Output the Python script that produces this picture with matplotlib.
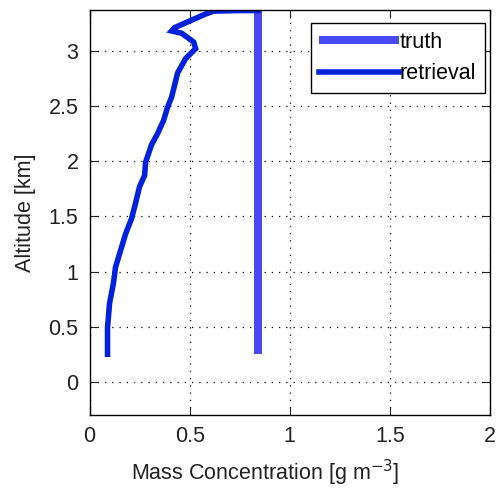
import matplotlib
matplotlib.use("Agg")
import matplotlib.pyplot as plt

truth_x = [0.84, 0.84]
truth_y = [0.25, 3.37]

retr_x = [0.09, 0.09, 0.10, 0.12, 0.13, 0.16, 0.18, 0.21, 0.23, 0.25, 0.275, 0.28, 0.31, 0.34,
          0.37, 0.39, 0.41, 0.44, 0.48, 0.53, 0.52, 0.46, 0.41, 0.425, 0.50, 0.575, 0.62, 0.75, 0.84]
retr_y = [0.25, 0.49, 0.71, 0.90, 1.04, 1.22, 1.34, 1.48, 1.62, 1.77, 1.87, 1.99, 2.15, 2.25,
          2.37, 2.49, 2.58, 2.80, 2.93, 3.02, 3.08, 3.16, 3.18, 3.21, 3.27, 3.33, 3.36, 3.365, 3.365]

xticks = [0, 0.5, 1, 1.5, 2]
xticklabels = ["0", "0.5", "1", "1.5", "2"]
yticks = [0, 0.5, 1, 1.5, 2, 2.5, 3]
yticklabels = ["0", "0.5", "1", "1.5", "2", "2.5", "3"]

plt.rcParams['font.family'] = ['Liberation Sans', 'DejaVu Sans']
fig = plt.figure(figsize=(4.97, 4.93), dpi=100)
ax = fig.add_axes([89.5 / 497, 78 / 493, 400.5 / 497, 405 / 493])
ax.plot(truth_x, truth_y, color='#4a4af5', lw=5.8, label='truth', solid_capstyle='butt')
ax.plot(retr_x, retr_y, color='#0022dd', lw=4.0, label='retrieval', solid_joinstyle='miter')
ax.set_xlim(0, 2)
ax.set_ylim(-0.3, 3.37)
ax.set_xticks(xticks)
ax.set_xticklabels(xticklabels)
ax.set_yticks(yticks)
ax.set_yticklabels(yticklabels)
ax.grid(True, linestyle=(0, (1, 4.8)), color='black', lw=0.9)
ax.tick_params(direction='in', top=True, right=True, labelsize=15.5, length=5.5, pad=8, colors='#222222')
for s in ax.spines.values():
    s.set_linewidth(1.0)
ax.set_xlabel('Mass Concentration [g m$^{-3}$]', fontsize=15.5, color='#222222')
ax.xaxis.set_label_coords(0.44, -0.105)
ax.set_ylabel('Altitude [km]', fontsize=15.5, labelpad=9, color='#222222')
leg = ax.legend(loc='upper right', bbox_to_anchor=(0.9875, 0.968), fontsize=15.5, fancybox=False,
                framealpha=1, edgecolor='black', handlelength=3.7, handletextpad=0.05,
                borderaxespad=0, borderpad=0.4, labelspacing=0.5)
leg.get_frame().set_linewidth(1.0)
fig.savefig('out.png', dpi=100)
